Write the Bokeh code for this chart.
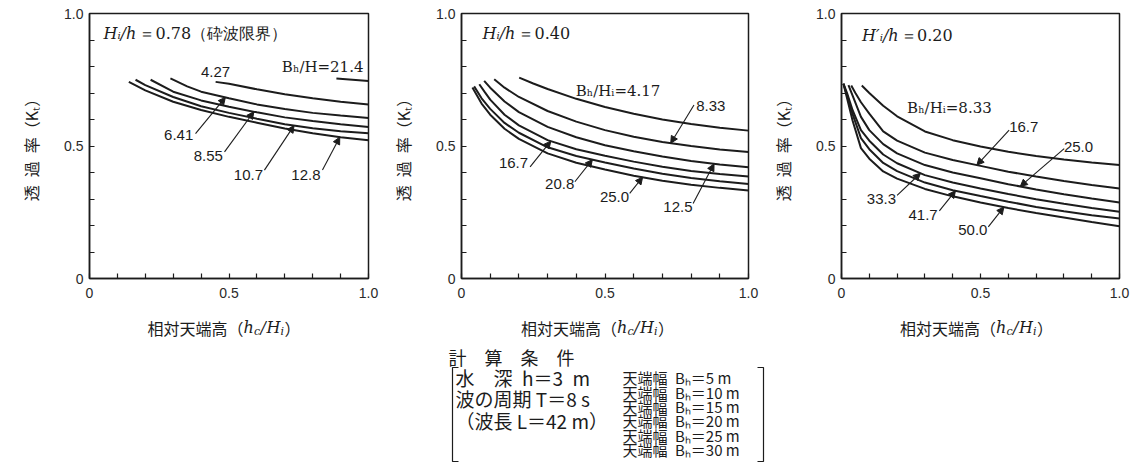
import numpy as np
from bokeh.plotting import figure
from bokeh.models import (Range1d, FixedTicker, Arrow, NormalHead,
                          CustomJSTickFormatter)
from bokeh.layouts import row, column
from bokeh.embed import file_html
from bokeh.resources import INLINE
from bokeh.core.properties import value

# ---------------- data ----------------
# Panel 1 : Hi/h = 0.78 (breaking limit), curves labelled by Bh/H
p1_x_214 = [0.885, 1.0]
p1_y_214 = [0.755, 0.745]
p1_x_427 = [0.452, 0.5, 0.6, 0.7, 0.8, 0.9, 1.0]
p1_y_427 = [0.742, 0.735, 0.714, 0.695, 0.680, 0.667, 0.657]
p1_x_641 = [0.29, 0.35, 0.4, 0.5, 0.6, 0.7, 0.8, 0.9, 1.0]
p1_y_641 = [0.755, 0.725, 0.705, 0.680, 0.657, 0.640, 0.625, 0.615, 0.606]
p1_x_855 = [0.219, 0.3, 0.4, 0.5, 0.6, 0.7, 0.8, 0.9, 1.0]
p1_y_855 = [0.750, 0.705, 0.672, 0.648, 0.627, 0.608, 0.594, 0.582, 0.572]
p1_x_107 = [0.165, 0.2, 0.3, 0.4, 0.5, 0.6, 0.7, 0.8, 0.9, 1.0]
p1_y_107 = [0.750, 0.730, 0.685, 0.650, 0.625, 0.603, 0.582, 0.567, 0.556, 0.548]
p1_x_128 = [0.141, 0.2, 0.3, 0.4, 0.5, 0.6, 0.7, 0.8, 0.9, 1.0]
p1_y_128 = [0.742, 0.710, 0.667, 0.636, 0.610, 0.588, 0.566, 0.548, 0.533, 0.522]

# Panel 2 : Hi/h = 0.40, curves labelled by Bh/Hi
p2_x_417 = [0.201, 0.25, 0.3, 0.4, 0.5, 0.6, 0.7, 0.8, 0.9, 1.0]
p2_y_417 = [0.758, 0.736, 0.715, 0.678, 0.647, 0.622, 0.600, 0.583, 0.569, 0.558]
p2_x_833 = [0.114, 0.15, 0.2, 0.3, 0.4, 0.5, 0.6, 0.7, 0.8, 0.9, 1.0]
p2_y_833 = [0.752, 0.720, 0.685, 0.632, 0.592, 0.560, 0.535, 0.515, 0.500, 0.487, 0.477]
p2_x_125 = [0.079, 0.1, 0.15, 0.2, 0.3, 0.4, 0.5, 0.6, 0.7, 0.8, 0.9, 1.0]
p2_y_125 = [0.746, 0.720, 0.668, 0.628, 0.572, 0.533, 0.503, 0.480, 0.460, 0.443, 0.430, 0.420]
p2_x_167 = [0.062, 0.08, 0.1, 0.15, 0.2, 0.3, 0.4, 0.5, 0.6, 0.7, 0.8, 0.9, 1.0]
p2_y_167 = [0.733, 0.705, 0.675, 0.618, 0.578, 0.522, 0.488, 0.463, 0.441, 0.422, 0.406, 0.394, 0.385]
p2_x_208 = [0.044, 0.07, 0.1, 0.15, 0.2, 0.3, 0.4, 0.5, 0.6, 0.7, 0.8, 0.9, 1.0]
p2_y_208 = [0.725, 0.680, 0.640, 0.587, 0.550, 0.495, 0.462, 0.438, 0.415, 0.395, 0.379, 0.367, 0.357]
p2_x_250 = [0.038, 0.07, 0.1, 0.15, 0.2, 0.3, 0.4, 0.5, 0.6, 0.7, 0.8, 0.9, 1.0]
p2_y_250 = [0.721, 0.660, 0.618, 0.565, 0.527, 0.472, 0.437, 0.411, 0.388, 0.369, 0.354, 0.342, 0.332]

# Panel 3 : Hi'/h = 0.20, curves labelled by Bh/Hi
p3_x_833 = [0.073, 0.1, 0.15, 0.2, 0.3, 0.4, 0.5, 0.6, 0.7, 0.8, 0.9, 1.0]
p3_y_833 = [0.728, 0.700, 0.652, 0.612, 0.555, 0.522, 0.498, 0.478, 0.462, 0.449, 0.438, 0.428]
p3_x_167 = [0.035, 0.05, 0.07, 0.1, 0.15, 0.2, 0.3, 0.4, 0.5, 0.6, 0.7, 0.8, 0.9, 1.0]
p3_y_167 = [0.728, 0.700, 0.665, 0.622, 0.555, 0.520, 0.475, 0.447, 0.425, 0.403, 0.385, 0.368, 0.353, 0.340]
p3_x_250 = [0.025, 0.04, 0.07, 0.1, 0.15, 0.2, 0.3, 0.4, 0.5, 0.6, 0.7, 0.8, 0.9, 1.0]
p3_y_250 = [0.730, 0.690, 0.610, 0.560, 0.507, 0.472, 0.428, 0.400, 0.378, 0.356, 0.336, 0.318, 0.302, 0.287]
p3_x_333 = [0.007, 0.02, 0.04, 0.07, 0.1, 0.15, 0.2, 0.3, 0.4, 0.5, 0.6, 0.7, 0.8, 0.9, 1.0]
p3_y_333 = [0.735, 0.700, 0.635, 0.560, 0.520, 0.468, 0.435, 0.390, 0.362, 0.340, 0.319, 0.299, 0.282, 0.266, 0.252]
p3_x_417 = [0.007, 0.02, 0.04, 0.07, 0.1, 0.15, 0.2, 0.3, 0.4, 0.5, 0.6, 0.7, 0.8, 0.9, 1.0]
p3_y_417 = [0.735, 0.690, 0.620, 0.530, 0.488, 0.436, 0.405, 0.362, 0.333, 0.311, 0.290, 0.270, 0.254, 0.239, 0.226]
p3_x_500 = [0.007, 0.02, 0.04, 0.07, 0.1, 0.15, 0.2, 0.3, 0.4, 0.5, 0.6, 0.7, 0.8, 0.9, 1.0]
p3_y_500 = [0.735, 0.680, 0.595, 0.492, 0.452, 0.404, 0.377, 0.338, 0.310, 0.287, 0.266, 0.247, 0.230, 0.213, 0.197]

# Tick labels
tick_values = [0.0, 0.5, 1.0]
minor_values = [0.1, 0.2, 0.3, 0.4, 0.6, 0.7, 0.8, 0.9]

# Bottom caption text
cond_title = "計\u3000算\u3000条\u3000件"
cond_left = ["水\u3000深\u2002h＝3\u2002m", "波の周期 T＝8 s", "（波長 L＝42 m）"]
cond_right = ["天端幅\u2002Bₕ＝5 m", "天端幅\u2002Bₕ＝10 m", "天端幅\u2002Bₕ＝15 m",
              "天端幅\u2002Bₕ＝20 m", "天端幅\u2002Bₕ＝25 m", "天端幅\u2002Bₕ＝30 m"]

# ---------------- styling ----------------
INK = "#1c1c1c"
NUM_FONT = "Liberation Sans"
SERIF = "DejaVu Serif"
CJK = "Noto Sans CJK JP"
PANEL_H = 306


def make_panel(width, left, right):
    p = figure(width=width, height=PANEL_H, x_range=Range1d(0, 1), y_range=Range1d(0, 1),
               output_backend="svg", toolbar_location=None,
               min_border_left=left, min_border_right=right,
               min_border_top=13, min_border_bottom=28,
               background_fill_color="white", border_fill_color="white")
    p.grid.visible = False
    p.outline_line_color = INK
    p.outline_line_width = 1.5
    p.outline_line_alpha = 1.0
    for ax in (p.xaxis[0], p.yaxis[0]):
        ax.ticker = FixedTicker(ticks=tick_values, minor_ticks=minor_values)
        ax.formatter = CustomJSTickFormatter(code="return tick == 0 ? '0' : tick.toFixed(1);")
        ax.major_tick_in = 5
        ax.major_tick_out = 0
        ax.minor_tick_in = 5
        ax.minor_tick_out = 0
        ax.axis_line_color = INK
        ax.axis_line_width = 1.5
        ax.major_tick_line_color = INK
        ax.minor_tick_line_color = INK
        ax.major_tick_line_width = 1.2
        ax.minor_tick_line_width = 1.2
        ax.major_label_text_font = NUM_FONT
        ax.major_label_text_font_size = "14px"
        ax.major_label_text_color = "#2a2a2a"
    p.xaxis.major_label_standoff = 9
    p.yaxis.major_label_standoff = 6
    p.yaxis.axis_label = "透\u2002過\u2002率（K\u209c）"
    p.yaxis.axis_label_text_font = CJK
    p.yaxis.axis_label_text_font_size = "16px"
    p.yaxis.axis_label_text_font_style = "normal"
    p.yaxis.axis_label_text_color = INK
    p.yaxis.axis_label_standoff = 18
    return p


def add_curves(p, xs_list, ys_list):
    for xs, ys in zip(xs_list, ys_list):
        p.line(xs, ys, line_color=INK, line_width=2.0)


def add_title(p, tx, ty, var_text, rest_text, offset):
    p.text(x=[tx], y=[ty], text=[var_text], text_font=value(SERIF),
           text_font_style="italic", text_font_size="16px",
           text_baseline="middle", text_align="left", text_color=INK)
    p.text(x=[tx], y=[ty], text=[rest_text], x_offset=offset, text_font=value(SERIF),
           text_font_size="16px", text_baseline="middle", text_align="left",
           text_color=INK)


def add_labels(p, texts, xs, ys, aligns, fonts):
    for t, x, y, a, f in zip(texts, xs, ys, aligns, fonts):
        p.text(x=[x], y=[y], text=[t], text_font=value(f), text_font_size="15px",
               text_baseline="middle", text_align=a, text_color=INK)


def add_arrows(p, starts, tips):
    for (sx, sy), (tx, cx, cy) in zip(starts, tips):
        ty = float(np.interp(tx, cx, cy))
        p.add_layout(Arrow(end=NormalHead(size=7, fill_color=INK, line_color=INK, line_width=1),
                           x_start=sx, y_start=sy, x_end=tx, y_end=ty,
                           line_color=INK, line_width=1.1))


# ---------------- panel 1 ----------------
p1 = make_panel(382, 89, 14)
add_curves(p1, [p1_x_214, p1_x_427, p1_x_641, p1_x_855, p1_x_107, p1_x_128],
           [p1_y_214, p1_y_427, p1_y_641, p1_y_855, p1_y_107, p1_y_128])
add_title(p1, 0.05, 0.923, "Hᵢ/h", "＝0.78（砕波限界）", 36)
add_labels(p1, ["Bₕ/H=21.4", "4.27", "6.41", "8.55", "10.7", "12.8"],
           [0.982, 0.452, 0.372, 0.478, 0.622, 0.828],
           [0.800, 0.780, 0.541, 0.463, 0.390, 0.390],
           ["right", "center", "right", "right", "right", "right"],
           [SERIF, NUM_FONT, NUM_FONT, NUM_FONT, NUM_FONT, NUM_FONT])
add_arrows(p1, [(0.38, 0.547), (0.484, 0.478), (0.627, 0.409), (0.835, 0.409)],
           [(0.487, p1_x_641, p1_y_641), (0.589, p1_x_855, p1_y_855),
            (0.733, p1_x_107, p1_y_107), (0.897, p1_x_128, p1_y_128)])

# ---------------- panel 2 ----------------
p2 = make_panel(380, 79, 14)
add_curves(p2, [p2_x_417, p2_x_833, p2_x_125, p2_x_167, p2_x_208, p2_x_250],
           [p2_y_417, p2_y_833, p2_y_125, p2_y_167, p2_y_208, p2_y_250])
add_title(p2, 0.073, 0.923, "Hᵢ/h", "＝0.40", 36)
add_labels(p2, ["Bₕ/Hᵢ=4.17", "8.33", "16.7", "20.8", "25.0", "12.5"],
           [0.398, 0.818, 0.232, 0.393, 0.584, 0.805],
           [0.708, 0.650, 0.434, 0.358, 0.308, 0.270],
           ["left", "left", "right", "right", "right", "right"],
           [SERIF, NUM_FONT, NUM_FONT, NUM_FONT, NUM_FONT, NUM_FONT])
add_arrows(p2, [(0.81, 0.655), (0.239, 0.421), (0.395, 0.365), (0.586, 0.321), (0.807, 0.283)],
           [(0.729, p2_x_833, p2_y_833), (0.311, p2_x_167, p2_y_167),
            (0.456, p2_x_208, p2_y_208), (0.631, p2_x_250, p2_y_250),
            (0.88, p2_x_125, p2_y_125)])

# ---------------- panel 3 ----------------
p3 = make_panel(382, 79, 25)
add_curves(p3, [p3_x_833, p3_x_167, p3_x_250, p3_x_333, p3_x_417, p3_x_500],
           [p3_y_833, p3_y_167, p3_y_250, p3_y_333, p3_y_417, p3_y_500])
add_title(p3, 0.074, 0.918, "H′ᵢ/h", "＝0.20", 39)
add_labels(p3, ["Bₕ/Hᵢ=8.33", "16.7", "25.0", "33.3", "41.7", "50.0"],
           [0.236, 0.603, 0.800, 0.196, 0.346, 0.525],
           [0.645, 0.570, 0.497, 0.300, 0.238, 0.182],
           ["left", "left", "left", "right", "right", "right"],
           [SERIF, NUM_FONT, NUM_FONT, NUM_FONT, NUM_FONT, NUM_FONT])
add_arrows(p3, [(0.603, 0.56), (0.801, 0.49), (0.2, 0.314), (0.352, 0.255), (0.528, 0.195)],
           [(0.487, p3_x_167, p3_y_167), (0.643, p3_x_250, p3_y_250),
            (0.284, p3_x_333, p3_y_333), (0.41, p3_x_417, p3_y_417),
            (0.584, p3_x_500, p3_y_500)])

# ---------------- lower strip: x-axis titles + calculation conditions ----------------
p4 = figure(width=1144, height=467 - PANEL_H, x_range=Range1d(0, 1144),
            y_range=Range1d(467, PANEL_H),
            output_backend="svg", toolbar_location=None, min_border=0,
            x_axis_location=None, y_axis_location=None,
            background_fill_color="white", border_fill_color="white")
p4.grid.visible = False
p4.outline_line_color = None

# x-axis title 相対天端高（h_c/H_i）, one under each panel
xlabel_parts = [("相対天端高", CJK, "normal", "16px", 0, 0),
                ("（", CJK, "normal", "16px", 80, 0),
                ("h", SERIF, "italic", "16px", 96, 0),
                ("c", SERIF, "italic", "11px", 106.5, 4),
                ("/", SERIF, "italic", "16px", 113, 0),
                ("H", SERIF, "italic", "16px", 119, 0),
                ("i", SERIF, "italic", "11px", 133, 4),
                ("）", CJK, "normal", "16px", 137, 0)]
xlabel_width = 153
for cx in (223.5, 597.0, 976.0):
    for txt, font, style, size, off, dy in xlabel_parts:
        p4.text(x=[cx - xlabel_width / 2], y=[327], text=[txt], x_offset=off, y_offset=dy,
                text_font=value(font), text_font_style=style, text_font_size=size,
                text_baseline="alphabetic", text_align="left", text_color=INK)

p4.text(x=[448], y=[356], text=[cond_title], text_font=value(CJK), text_font_size="18px",
        text_baseline="middle", text_align="left", text_color=INK)
p4.text(x=[455] * 3, y=[377, 398, 420], text=cond_left, text_font=value(CJK),
        text_font_size="19px", text_baseline="middle", text_align="left", text_color=INK)
p4.text(x=[622] * 6, y=[377, 391.5, 406, 420, 434.5, 449], text=cond_right,
        text_font=value(CJK), text_font_size="15px", text_baseline="middle",
        text_align="left", text_color=INK)
p4.line([458, 452, 452, 458], [367, 367, 461, 461], line_color=INK, line_width=1.2)
p4.line([757, 763, 763, 757], [367, 367, 461, 461], line_color=INK, line_width=1.2)

layout = column(row(p1, p2, p3), p4)
open("out.html", "w").write(file_html(layout, INLINE))
